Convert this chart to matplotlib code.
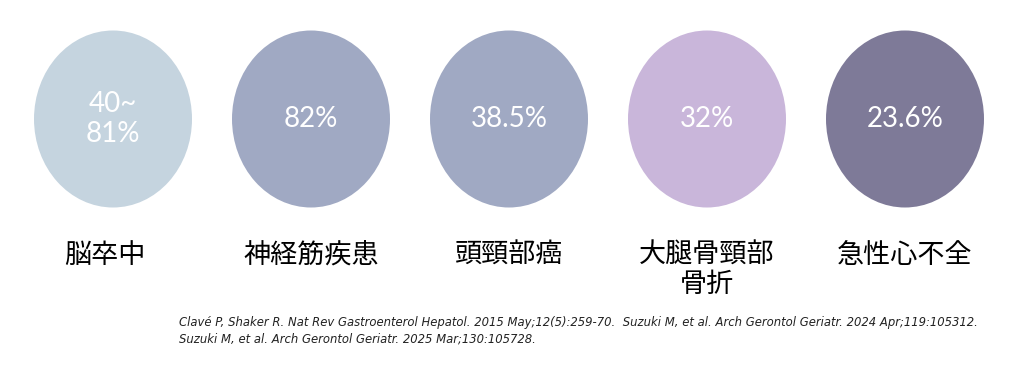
import matplotlib.pyplot as plt
from matplotlib.patches import Ellipse

# データ
categories = ['脳卒中', '神経筋疾患', '頭頸部癌', '大腿骨頸部\n骨折', '急性心不全']
values = ['40~\n81%', '82%', '38.5%', '32%', '23.6%']
colors = ['#c5d4df', '#a0a9c3', '#a0a9c3', '#c9b6da', '#7e7a98']
refs = ['Clavé P, Shaker R. Nat Rev Gastroenterol Hepatol. 2015 May;12(5):259-70.  '
        'Suzuki M, et al. Arch Gerontol Geriatr. 2024 Apr;119:105312.',
        'Suzuki M, et al. Arch Gerontol Geriatr. 2025 Mar;130:105728.']

plt.rcParams['font.family'] = ['Noto Sans CJK JP', 'DejaVu Sans']

fig = plt.figure(figsize=(10.24, 3.73), dpi=100)
ax = fig.add_axes([0, 0, 1, 1])
ax.set_xlim(0, 1024)
ax.set_ylim(373, 0)
ax.axis('off')

for i, (cat, val, c) in enumerate(zip(categories, values, colors)):
    cx = 113 + 198 * i
    ax.add_patch(Ellipse((cx, 119), 158, 177, color=c, lw=0))
    ax.text(cx, 119, val, ha='center', va='center', color='white',
            fontsize=20, family=['Lato', 'Noto Sans CJK JP'],
            linespacing=1.2)
    lx = cx - 8 if i == 0 else cx
    ax.text(lx, 242, cat, ha='center', va='top', fontsize=19.5,
            color='black', linespacing=1.08)

ax.text(179, 331, '\n'.join(refs), ha='left', va='center', fontsize=8.4,
        style='italic', color='#222222', family=['DejaVu Sans'],
        linespacing=1.4)

fig.savefig('out.png', dpi=100)
